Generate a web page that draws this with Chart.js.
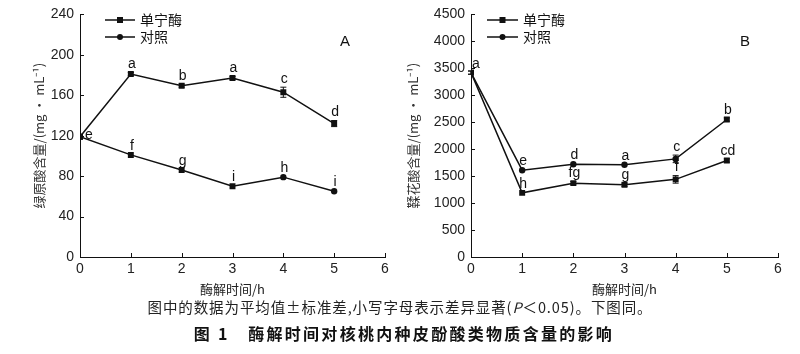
<!DOCTYPE html>
<html>
<head>
<meta charset="utf-8">
<script src="https://cdn.jsdelivr.net/npm/chart.js@4.4.0/dist/chart.umd.min.js"></script>
<style>
  body { margin: 0; background: #fff; }
  #wrap { position: relative; width: 800px; height: 354px; background: #fff; overflow: hidden; }
  canvas { position: absolute; top: 0; }
  #cA { left: 0; }
  #cB { left: 400px; }
  .cap1 { position: absolute; left: 0; width: 800px; top: 296px; text-align: center;
          font: 14.5px "Noto Sans CJK SC", sans-serif; color: #222; letter-spacing: 0.9px; }
  .cap2 { position: absolute; left: 4px; width: 800px; top: 321px; text-align: center;
          font: bold 16px "Noto Sans CJK SC", sans-serif; color: #111; letter-spacing: 2.3px; }
</style>
</head>
<body>
<div id="wrap">
  <canvas id="cA" width="400" height="298"></canvas>
  <canvas id="cB" width="400" height="298"></canvas>
  <div class="cap1">图中的数据为平均值±标准差,小写字母表示差异显著(<i>P</i>＜0.05)。下图同。</div>
  <div class="cap2">图 1　酶解时间对核桃内种皮酚酸类物质含量的影响</div>
</div>
<script>
/* ── DATA ── */
const hours = [0, 1, 2, 3, 4, 5];

// A: chlorogenic acid
const chlorTannase    = [119, 181, 169.5, 177, 163, 132];
const chlorTannaseErr = [1, 1.5, 1.5, 1.5, 5, 3];
const chlorTannaseLbl = ['', 'a', 'b', 'a', 'c', 'd'];
const chlorControl    = [119, 101, 86, 70, 79, 65];
const chlorControlErr = [1, 1, 1, 1, 1, 1];
const chlorControlLbl = ['e', 'f', 'g', 'i', 'h', 'i'];

// B: ellagic acid
const ellagControl    = [3420, 1610, 1720, 1710, 1820, 2550];
const ellagControlErr = [30, 20, 20, 20, 70, 30];
const ellagControlLbl = ['a', 'e', 'd', 'a', 'c', 'b'];
const ellagTannase    = [3420, 1190, 1370, 1340, 1440, 1790];
const ellagTannaseErr = [30, 20, 30, 30, 70, 30];
const ellagTannaseLbl = ['', 'h', 'fg', 'g', 'f', 'cd'];

const seriesNames = ['单宁酶', '对照'];
const xTitle = '酶解时间/h';

const INK = '#111';
const NUM_FONT = '"Liberation Sans", Arial, sans-serif';
const CJK_FONT = '"Noto Sans CJK SC", sans-serif';

/* ── PLUGINS ── */
// error bars + significance letters
const marksPlugin = {
  id: 'marks',
  afterDatasetsDraw(chart) {
    const ctx = chart.ctx, xs = chart.scales.x, ys = chart.scales.y;
    ctx.save();
    ctx.strokeStyle = INK; ctx.fillStyle = INK; ctx.lineWidth = 1;
    ctx.font = '14px ' + NUM_FONT;
    ctx.textAlign = 'center'; ctx.textBaseline = 'middle';
    chart.data.datasets.forEach(ds => {
      ds.data.forEach((p, i) => {
        const px = xs.getPixelForValue(p.x);
        const top = ys.getPixelForValue(p.y + ds.errors[i]);
        const bot = ys.getPixelForValue(p.y - ds.errors[i]);
        if (bot - top > 2.5) {
          ctx.beginPath();
          ctx.moveTo(px, top); ctx.lineTo(px, bot);
          ctx.moveTo(px - 3, top); ctx.lineTo(px + 3, top);
          ctx.moveTo(px - 3, bot); ctx.lineTo(px + 3, bot);
          ctx.stroke();
        }
        const t = ds.letters[i];
        if (t) {
          const sh = (ds.letterShift && ds.letterShift[i]) || [1, 0];
          ctx.fillText(t, px + sh[0], top - 8 + sh[1]);
        }
      });
    });
    ctx.restore();
  }
};

// inward tick marks
const ticksPlugin = {
  id: 'inTicks',
  afterDraw(chart) {
    const ctx = chart.ctx, xs = chart.scales.x, ys = chart.scales.y;
    ctx.save();
    ctx.strokeStyle = INK; ctx.lineWidth = 1;
    ctx.beginPath();
    ys.ticks.forEach(t => {
      const y = Math.round(ys.getPixelForValue(t.value)) + 0.5;
      ctx.moveTo(ys.right, y); ctx.lineTo(ys.right + 4, y);
    });
    xs.ticks.forEach(t => {
      const x = Math.round(xs.getPixelForValue(t.value)) + 0.5;
      ctx.moveTo(x, xs.top); ctx.lineTo(x, xs.top - 4);
    });
    ctx.stroke();
    ctx.restore();
  }
};

// line-with-marker legend + panel letter
const legendPlugin = {
  id: 'lineLegend',
  afterDraw(chart, args, o) {
    const ctx = chart.ctx;
    ctx.save();
    ctx.strokeStyle = INK; ctx.fillStyle = INK; ctx.lineWidth = 1.5;
    o.items.forEach((it, k) => {
      const y = o.y + k * o.gap;
      ctx.beginPath(); ctx.moveTo(o.x, y); ctx.lineTo(o.x + o.w, y); ctx.stroke();
      const mx = o.x + o.w / 2;
      ctx.beginPath();
      if (it.style === 'rect') ctx.rect(mx - 3, y - 3, 6, 6);
      else ctx.arc(mx, y, 3, 0, Math.PI * 2);
      ctx.fill();
      ctx.font = '14px ' + CJK_FONT;
      ctx.textAlign = 'left'; ctx.textBaseline = 'middle';
      ctx.fillText(it.text, o.x + o.w + 5, y);
    });
    ctx.font = '15px ' + NUM_FONT;
    ctx.textAlign = 'center'; ctx.textBaseline = 'middle';
    ctx.fillText(o.panel, o.px, o.py);
    ctx.restore();
  }
};

function pts(ys) { return hours.map((h, i) => ({ x: h, y: ys[i] })); }

function makeDs(label, values, errors, letters, styles, extra) {
  return Object.assign({
    label,
    data: pts(values),
    errors, letters,
    borderColor: INK, backgroundColor: INK,
    borderWidth: 1.5,
    pointStyle: styles,
    pointRadius: styles.map(s => s === 'rect' ? 4.2 : 3.2),
    pointBorderWidth: 0,
    tension: 0
  }, extra || {});
}

function makeChart(id, datasets, yMax, yStep, yTitle, yWidth, yTitlePad, pad, legend) {
  return new Chart(document.getElementById(id), {
    type: 'line',
    data: { datasets },
    plugins: [marksPlugin, ticksPlugin, legendPlugin],
    options: {
      responsive: false,
      animation: false,
      layout: { padding: pad },
      plugins: {
        legend: { display: false },
        tooltip: { enabled: false },
        lineLegend: legend
      },
      scales: {
        x: {
          type: 'linear', min: 0, max: 6,
          afterFit: s => { s.height = 41; },
          grid: { drawOnChartArea: false, drawTicks: false },
          border: { color: INK, width: 1 },
          ticks: { stepSize: 1, padding: 4, color: '#222', font: { family: NUM_FONT, size: 14 },
                   callback: v => String(v) },
          title: { display: true, text: xTitle, color: '#222', padding: { bottom: 1 },
                   font: { family: CJK_FONT, size: 13 } }
        },
        y: {
          min: 0, max: yMax,
          afterFit: s => { s.width = yWidth; },
          grid: { drawOnChartArea: false, drawTicks: false },
          border: { color: INK, width: 1 },
          ticks: { stepSize: yStep, padding: 6, color: '#222', font: { family: NUM_FONT, size: 14 },
                   callback: v => String(v) },
          title: { display: true, text: yTitle, color: '#333', padding: { top: yTitlePad },
                   font: { family: CJK_FONT, size: 13 } }
        }
      }
    }
  });
}

/* ── CHART A ── */
makeChart('cA', [
  makeDs(seriesNames[0], chlorTannase, chlorTannaseErr, chlorTannaseLbl, hours.map(() => 'rect')),
  makeDs(seriesNames[1], chlorControl, chlorControlErr, chlorControlLbl,
         ['rect', 'rect', 'rect', 'rect', 'circle', 'circle'], { letterShift: { 0: [9, 7] } })
], 240, 40, '绿原酸含量/(mg · mL⁻¹)', 80, 31, { top: 12, right: 15, left: 0, bottom: 0 }, {
  x: 105, y: 20, gap: 17, w: 30, px: 345, py: 42, panel: 'A',
  items: [{ text: seriesNames[0], style: 'rect' }, { text: seriesNames[1], style: 'circle' }]
});

/* ── CHART B ── */
makeChart('cB', [
  makeDs(seriesNames[1], ellagControl, ellagControlErr, ellagControlLbl,
         ['rect', 'circle', 'circle', 'circle', 'circle', 'rect'], { letterShift: { 0: [5, 1] } }),
  makeDs(seriesNames[0], ellagTannase, ellagTannaseErr, ellagTannaseLbl, hours.map(() => 'rect'))
], 4500, 500, '鞣花酸含量/(mg · mL⁻¹)', 71, 5, { top: 9, right: 22, left: 0, bottom: 0 }, {
  x: 87, y: 20, gap: 17, w: 31, px: 345, py: 42, panel: 'B',
  items: [{ text: seriesNames[0], style: 'rect' }, { text: seriesNames[1], style: 'circle' }]
});
</script>
</body>
</html>
